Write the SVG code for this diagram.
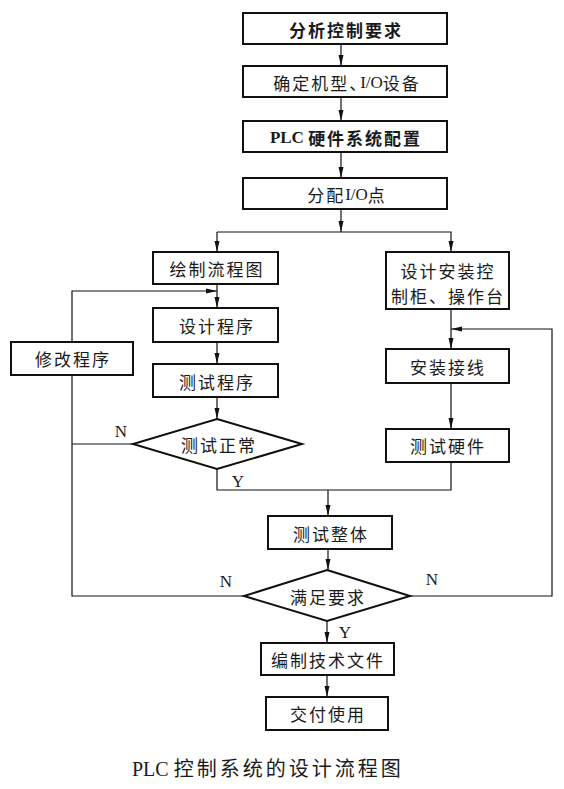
<svg xmlns="http://www.w3.org/2000/svg" width="564" height="789" viewBox="0 0 564 789">
<defs>
<marker id="arr" markerUnits="userSpaceOnUse" markerWidth="12" markerHeight="8" viewBox="0 0 12 8" refX="11" refY="4" orient="auto">
<path d="M0,1.5 L11,4 L0,6.5 Z" fill="#111"/>
</marker>
<style>
.box{fill:#fff;stroke:#111;stroke-width:2}
.dia{fill:#fff;stroke:#111;stroke-width:2}
.ln{fill:none;stroke:#111;stroke-width:1.2}
.ar{marker-end:url(#arr)}
.t{font-family:"Noto Sans CJK SC","Liberation Serif",serif;font-size:17px;fill:#1a1a1a;text-anchor:middle;dominant-baseline:central;letter-spacing:2px}
.b{font-weight:bold}
.lat{font-family:"Liberation Serif",serif}
.lbl{font-family:"Liberation Serif",serif;font-size:17px;fill:#1a1a1a;text-anchor:middle;dominant-baseline:central}
.cap{font-family:"Liberation Serif","Noto Sans CJK SC",serif;font-size:20px;fill:#1a1a1a}
</style>
</defs>
<rect width="564" height="789" fill="#fff"/>
<g id="connectors">
<path class="ln ar" d="M341,44 V66"/>
<path class="ln ar" d="M341,97 V121"/>
<path class="ln ar" d="M341,152 V178"/>
<path class="ln ar" d="M341,209 V232"/>
<path class="ln ar" d="M217,232 H451 V252"/>
<path class="ln ar" d="M217,232 V252"/>
<path class="ln ar" d="M217,284 V308"/>
<path class="ln ar" d="M72,342 V291 H217"/>
<path class="ln ar" d="M217,342 V364"/>
<path class="ln ar" d="M217,397 V419"/>
<path class="ln" d="M133,444 H72"/>
<path class="ln" d="M244,596 H72 V375"/>
<path class="ln" d="M217,469 V490 H451 V462"/>
<path class="ln ar" d="M328,490 V516"/>
<path class="ln ar" d="M328,549 V570"/>
<path class="ln ar" d="M410,596 H552 V329 H451"/>
<path class="ln ar" d="M451,309 V349"/>
<path class="ln ar" d="M451,383 V429"/>
<path class="ln ar" d="M327,621 V643"/>
<path class="ln ar" d="M327,675 V697"/>
</g>
<g id="n1"><rect class="box" x="243" y="13" width="204" height="31"/><text class="t b" x="346" y="29">分析控制要求</text></g>
<g id="n2"><rect class="box" x="243" y="66" width="204" height="31"/><text class="t" x="347" y="82">确定机型<tspan letter-spacing="-6">、</tspan><tspan class="lat" letter-spacing="0">I/O</tspan>设备</text></g>
<g id="n3"><rect class="box" x="243" y="121" width="204" height="31"/><text class="t b" x="346" y="137"><tspan class="lat" letter-spacing="0">PLC </tspan>硬件系统配置</text></g>
<g id="n4"><rect class="box" x="243" y="178" width="204" height="31"/><text class="t" x="347" y="194">分配<tspan class="lat" letter-spacing="0">I/O</tspan>点</text></g>
<g id="n5"><rect class="box" x="153" y="252" width="125" height="32"/><text class="t" x="217" y="268">绘制流程图</text></g>
<g id="n6"><rect class="box" x="386" y="252" width="123" height="57"/><text class="t" x="448" y="270">设计安装控</text><text class="t" x="448" y="295">制柜、操作台</text></g>
<g id="n7"><rect class="box" x="153" y="308" width="125" height="34"/><text class="t" x="217" y="325">设计程序</text></g>
<g id="n8"><rect class="box" x="11" y="342" width="122" height="33"/><text class="t" x="73" y="358">修改程序</text></g>
<g id="n9"><rect class="box" x="153" y="364" width="125" height="33"/><text class="t" x="217" y="381">测试程序</text></g>
<g id="n10"><polygon class="dia" points="217,419 302,444 217,469 133,444"/><text class="t" x="219" y="444">测试正常</text></g>
<g id="n11"><rect class="box" x="386" y="349" width="123" height="34"/><text class="t" x="448" y="366">安装接线</text></g>
<g id="n12"><rect class="box" x="386" y="429" width="123" height="33"/><text class="t" x="448" y="445">测试硬件</text></g>
<g id="n13"><rect class="box" x="268" y="516" width="124" height="33"/><text class="t" x="331" y="533">测试整体</text></g>
<g id="n14"><polygon class="dia" points="327,570 410,596 327,621 244,596"/><text class="t" x="328" y="596">满足要求</text></g>
<g id="n15"><rect class="box" x="261" y="643" width="133" height="32"/><text class="t" x="328" y="659">编制技术文件</text></g>
<g id="n16"><rect class="box" x="266" y="697" width="122" height="33"/><text class="t" x="328" y="713">交付使用</text></g>
<g id="labels">
<text class="lbl" x="121" y="431">N</text>
<text class="lbl" x="238" y="481">Y</text>
<text class="lbl" x="226" y="581">N</text>
<text class="lbl" x="432" y="579">N</text>
<text class="lbl" x="345" y="632">Y</text>
</g>
<text class="cap" x="132" y="776">PLC <tspan font-family="Noto Sans CJK SC, sans-serif" letter-spacing="3">控制系统的设计流程图</tspan></text>
</svg>
